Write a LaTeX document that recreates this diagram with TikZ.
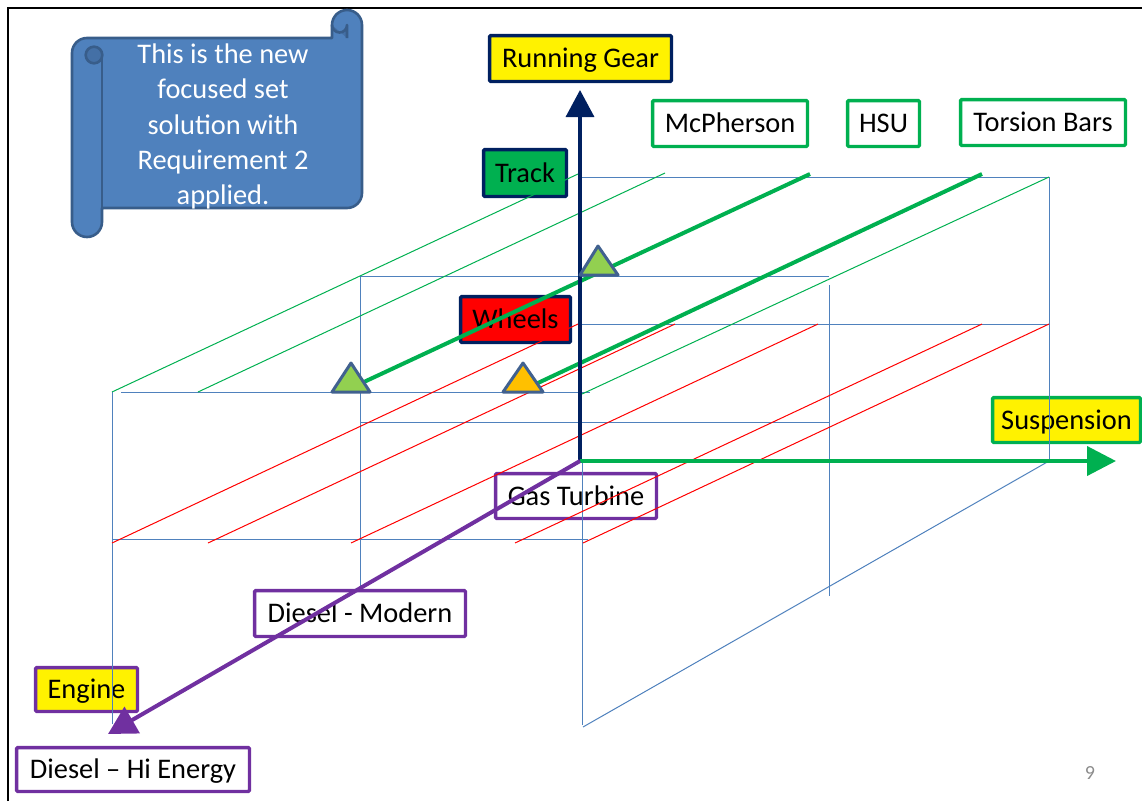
\documentclass[tikz,border=0pt]{standalone}
\usepackage{fontspec}
\setmainfont{Carlito}
\usetikzlibrary{arrows.meta}

\definecolor{navyax}{HTML}{002060}
\definecolor{grn}{HTML}{00B050}
\definecolor{purp}{HTML}{7030A0}
\definecolor{gridblue}{HTML}{4F81BD}
\definecolor{scrollfill}{HTML}{4F81BD}
\definecolor{scrollline}{HTML}{385D8A}
\definecolor{scrolldark}{HTML}{4470A6}
\definecolor{lightgreen}{HTML}{92D050}
\definecolor{amber}{HTML}{FFC000}
\definecolor{triline}{HTML}{41618F}
\definecolor{pagegray}{HTML}{8C8C8C}

\tikzset{
  lbl/.style={font=\fontsize{28.4}{34}\selectfont, text height=18.3pt, text depth=0pt,
              inner sep=0pt, line width=3.3pt, rounded corners=1pt},
  navybox/.style={lbl, draw=navyax},
  greenbox/.style={lbl, draw=grn, fill=white},
  purplebox/.style={lbl, draw=purp, fill=white},
  gridline/.style={gridblue, line width=1pt},
  redrun/.style={red, line width=1pt},
  thinrun/.style={grn, line width=1pt},
  thickrun/.style={grn, line width=4pt},
  marker/.style={draw=triline, line width=3pt, line join=round},
}

\begin{document}
\begin{tikzpicture}[x=1pt,y=-1pt]
\useasboundingbox (0,0) rectangle (1142,801);

% slide frame
\draw[line width=2pt] (8,801) -- (8,8) -- (1142,8);

% scroll banner
\filldraw[fill=scrollfill, draw=scrollline, line width=2.6pt, line join=round]
  (362,25) -- (362,193) arc[start angle=0, end angle=90, radius=15]
  -- (102,208) -- (102,222) arc[start angle=0, end angle=180, radius=15]
  -- (72,53) arc[start angle=180, end angle=270, radius=15]
  -- (332,38) -- (332,25) arc[start angle=180, end angle=360, radius=15] -- cycle;
\draw[scrollline, line width=2.6pt] (102,55) -- (102,208);
\filldraw[fill=scrolldark, draw=scrollline, line width=2.6pt] (94,55) circle[radius=8.3];
\filldraw[fill=scrolldark, draw=scrollline, line width=2.6pt, line join=round]
  (332,25) arc[start angle=180, end angle=0, radius=7.5] -- (347,38);
\node[text=white, align=center, font=\fontsize{28.4}{35.3}\selectfont, inner sep=0pt]
  (note) at (223,126.5) {This is the new\\focused set\\solution with\\Requirement 2\\applied.};

% axis labels and option boxes
\node[navybox, fill=yellow, minimum width=181.8pt, minimum height=45.8pt] (rg) at (580.5,58.5) {Running Gear};
\node[navybox, fill=grn, minimum width=82.8pt, minimum height=46.8pt] (track) at (525,173) {Track};
\node[navybox, fill=red, minimum width=109.8pt, minimum height=45.8pt] (wheels) at (515.5,319.5) {Wheels};
\node[greenbox, minimum width=154.8pt, minimum height=45.8pt] (mcph) at (730,123.5) {McPherson};
\node[greenbox, minimum width=71.8pt, minimum height=45.8pt] (hsu) at (883.5,123.5) {HSU};
\node[greenbox, minimum width=164.8pt, minimum height=45.8pt] (torsion) at (1043,122.5) {Torsion Bars};
\node[greenbox, fill=yellow, minimum width=147.8pt, minimum height=44.8pt] (susp) at (1066.5,420) {Suspension};
\node[purplebox, minimum width=160.8pt, minimum height=44.8pt] (gas) at (576,496) {Gas Turbine};
\node[purplebox, minimum width=210.8pt, minimum height=45.8pt] (dmod) at (360,613.5) {Diesel - Modern};
\node[purplebox, fill=yellow, minimum width=101.8pt, minimum height=43.8pt] (engine) at (86.5,689.5) {Engine};
\node[purplebox, minimum width=232.8pt, minimum height=43.8pt] (dhi) at (133,769.5) {Diesel – Hi Energy};

% box frame of the design space
\draw[gridline] (580,177) -- (1049,177);
\draw[gridline] (360,276) -- (829,276);
\draw[gridline] (580,324) -- (1049,324);
\draw[gridline] (121,392) -- (590,392);
\draw[gridline] (360,422) -- (829,422);
\draw[gridline] (112,539) -- (588,539);
\draw[gridline] (112,392) -- (112,724);
\draw[gridline] (360,276) -- (360,587);
\draw[gridline] (582,462) -- (582,725);
\draw[gridline] (829,285) -- (829,596);
\draw[gridline] (1049,177) -- (1049,461);
\draw[gridline] (583,727) -- (1049,461);

% wheeled running gear options
\draw[redrun] (112,543) -- (578,324);
\draw[redrun] (208,543) -- (675,324);
\draw[redrun] (351,543) -- (818,324);
\draw[redrun] (515,543) -- (982,324);
\draw[redrun] (583,543) -- (1049,324);

% tracked running gear options
\draw[thinrun] (112,392) -- (578,174);
\draw[thinrun] (198,392) -- (665,173);
\draw[thinrun] (582,394) -- (1049,177);
\draw[thickrun] (351,388) -- (810,174);
\draw[thickrun] (523,390) -- (982,174);

% axes
\coordinate (O) at (580,461);
\coordinate (rgtip) at (580,90);
\coordinate (susptip) at (1116,461);
\coordinate (engtip) at (108,734);
\draw[navyax, line width=3.5pt, -{Triangle[length=27pt,width=28pt]}] (O) -- (rgtip);
\draw[grn, line width=4pt, -{Triangle[length=29pt,width=29pt]}] (O) -- (susptip);
\draw[purp, line width=4pt, -{Triangle[length=28pt,width=30pt]}] (O) -- (engtip);

% remaining solutions
\draw[marker, fill=lightgreen] (351,363) -- (370,392) -- (332,392) -- cycle;
\draw[marker, fill=amber] (523,363) -- (543,392) -- (503,392) -- cycle;
\draw[marker, fill=lightgreen] (598,246) -- (618,275) -- (580,275) -- cycle;

% page number
\node[text=pagegray, font=\fontsize{20}{24}\selectfont, anchor=base, inner sep=0pt] (pg) at (1090,779) {9};
\end{tikzpicture}
\end{document}
